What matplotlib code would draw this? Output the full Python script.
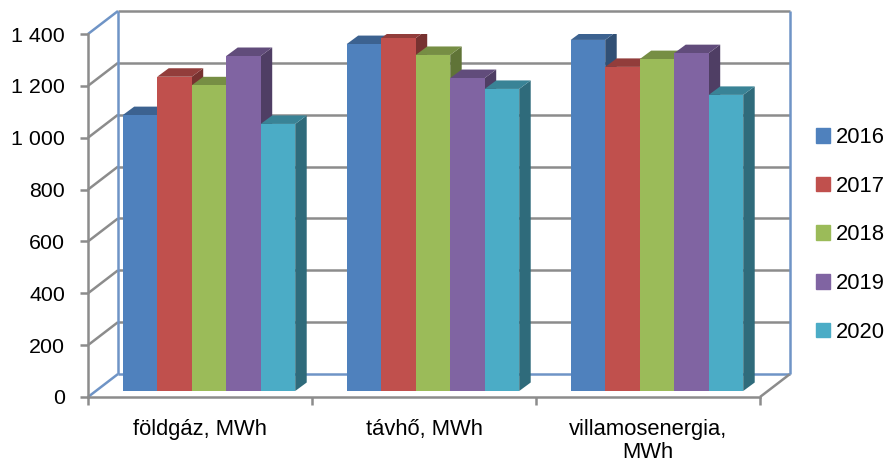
import matplotlib
matplotlib.use('Agg')
import matplotlib.pyplot as plt
from matplotlib.colors import to_rgb
from matplotlib.patches import Patch, Polygon

plt.rcParams['font.family'] = ['Liberation Sans', 'DejaVu Sans']

categories = ['földgáz, MWh', 'távhő, MWh', 'villamosenergia,\nMWh']
years = ['2016', '2017', '2018', '2019', '2020']
values_2016 = [1064, 1338, 1354]
values_2017 = [1212, 1361, 1250]
values_2018 = [1179, 1296, 1280]
values_2019 = [1292, 1207, 1303]
values_2020 = [1030, 1165, 1142]
series = [values_2016, values_2017, values_2018, values_2019, values_2020]
y_ticks = [0, 200, 400, 600, 800, 1000, 1200, 1400]
y_labels = ['0', '200', '400', '600', '800', '1 000', '1 200', '1 400']

# appearance
WIDTH = 885
HEIGHT = 467
COLORS = ['#4F81BD', '#C0504D', '#9BBB59', '#8064A2', '#4BACC6']
GRAY = '#8C8C8C'
WALL_BLUE = '#6F94C6'

# depth of the fake 3d box, in data units
WALL_DX = 30 / 224
WALL_DY = 23 / 0.2593
BAR_DX = 11.5 / 224
BAR_DY = 8.5 / 0.2593
BAR_SHIFT_X = 0.04
BAR_BASE = 6 / 0.2593
BAR_WIDTH = 34.5 / 224


def shade(color, factor):
    return tuple(c * factor for c in to_rgb(color))


fig = plt.figure(figsize=(WIDTH / 100, HEIGHT / 100), dpi=100)
ax = fig.add_axes([88 / WIDTH, (HEIGHT - 397) / HEIGHT, 672 / WIDTH, 363 / HEIGHT])
ax.set_xlim(0, 3)
ax.set_ylim(0, 1400)

# back wall and floor
line_opts = dict(clip_on=False, solid_capstyle='butt', linewidth=1.8)
for tick in y_ticks:
    color = WALL_BLUE if tick in (0, 1400) else GRAY
    ax.plot([0, WALL_DX], [tick, tick + WALL_DY], color=color, zorder=1, **line_opts)
    color = WALL_BLUE if tick == 0 else GRAY
    ax.plot([WALL_DX, 3 + WALL_DX], [tick + WALL_DY, tick + WALL_DY], color=color, zorder=1, **line_opts)
ax.plot([WALL_DX, WALL_DX], [WALL_DY, 1400 + WALL_DY], color=WALL_BLUE, zorder=1.5, **line_opts)
ax.plot([3 + WALL_DX, 3 + WALL_DX], [WALL_DY, 1400 + WALL_DY], color=WALL_BLUE, zorder=1.5, **line_opts)
ax.plot([3, 3 + WALL_DX], [0, WALL_DY], color=GRAY, zorder=1, **line_opts)

# bars, left to right so that each one covers the side of the previous
z = 2
for c in range(len(categories)):
    left = c + 0.5 + BAR_SHIFT_X - BAR_WIDTH * len(years) / 2
    for s, values in enumerate(series):
        x0 = left + s * BAR_WIDTH
        x1 = x0 + BAR_WIDTH
        top = BAR_BASE + values[c]
        side = [(x1, BAR_BASE), (x1 + BAR_DX, BAR_BASE + BAR_DY), (x1 + BAR_DX, top + BAR_DY), (x1, top)]
        roof = [(x0, top), (x0 + BAR_DX, top + BAR_DY), (x1 + BAR_DX, top + BAR_DY), (x1, top)]
        ax.add_patch(Polygon(side, color=shade(COLORS[s], 0.62), linewidth=0, zorder=z))
        ax.add_patch(Polygon(roof, color=shade(COLORS[s], 0.76), linewidth=0, zorder=z))
        ax.bar(x0, values[c], width=BAR_WIDTH, bottom=BAR_BASE, align='edge', color=COLORS[s], zorder=z + 0.5)
        z += 1

for name in ['top', 'right']:
    ax.spines[name].set_visible(False)
for name in ['left', 'bottom']:
    ax.spines[name].set_color(GRAY)
    ax.spines[name].set_linewidth(1.8)
    ax.spines[name].set_zorder(1)

ax.set_yticks(y_ticks)
ax.set_yticklabels(y_labels, fontsize=15.4)
ax.set_xticks([0, 1, 2, 3])
ax.set_xticklabels([])
ax.set_xticks([0.5, 1.5, 2.5], minor=True)
ax.set_xticklabels(categories, minor=True, fontsize=15.8, linespacing=1.1)
ax.tick_params(axis='both', which='major', color=GRAY, width=1.8, length=6)
ax.tick_params(axis='y', pad=10.5)
ax.tick_params(axis='x', which='minor', length=0, pad=16)

handles = [Patch(color=c) for c in COLORS]
fig.legend(handles, years, loc='center left', bbox_to_anchor=(816 / WIDTH, (HEIGHT - 235) / HEIGHT),
           frameon=False, fontsize=15.8, handlelength=0.65, handleheight=0.65,
           handletextpad=0.25, labelspacing=1.26, borderpad=0, borderaxespad=0)

fig.savefig('out.png', dpi=100)
